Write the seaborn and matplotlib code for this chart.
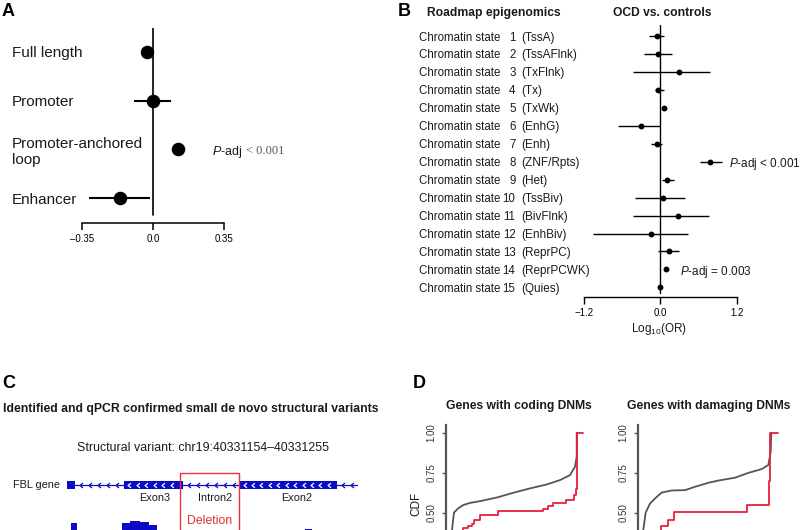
import numpy as np
import pandas as pd
import matplotlib
matplotlib.use('Agg')
import matplotlib.pyplot as plt
import matplotlib.transforms as mtransforms
from matplotlib.patches import Rectangle
from matplotlib.path import Path
import seaborn as sns

# ---------------- Panel A data ----------------
A_labels = ['Full length', 'Promoter', 'Promoter-anchored\nloop', 'Enhancer']
A_est = [-0.03, 0.0, 0.125, -0.16]
A_lo = [-0.05, -0.093, 0.095, -0.315]
A_hi = [-0.01, 0.09, 0.16, -0.016]
A_ticks = [-0.35, 0.0, 0.35]
A_ticklabels = ['\u20130.35', '0.0', '0.35']

# ---------------- Panel B data ----------------
B_num = list(range(1, 16))
B_state = ['TssA', 'TssAFlnk', 'TxFlnk', 'Tx', 'TxWk', 'EnhG', 'Enh', 'ZNF/Rpts',
           'Het', 'TssBiv', 'BivFlnk', 'EnhBiv', 'ReprPC', 'ReprPCWK', 'Quies']
B_est = [-0.06, -0.03, 0.29, -0.03, 0.05, -0.30, -0.06, 0.78,
         0.10, 0.04, 0.27, -0.15, 0.14, 0.09, 0.0]
B_lo = [-0.18, -0.25, -0.43, -0.08, 0.03, -0.67, -0.15, 0.63,
        0.03, -0.40, -0.43, -1.06, -0.04, 0.07, -0.01]
B_hi = [0.05, 0.19, 0.78, 0.05, 0.07, 0.0, 0.03, 0.97,
        0.21, 0.39, 0.77, 0.43, 0.30, 0.11, 0.01]
B_ticks = [-1.2, 0.0, 1.2]
B_ticklabels = ['\u22121.2', '0.0', '1.2']

# ---------------- Panel C data ----------------
C_transcript = (40330973, 40331458)
C_exons_start = [40330959, 40331058, 40331256]
C_exons_end = [40330973, 40331159, 40331424]
C_deletion = (40331154, 40331255)
C_labels = ['Exon3', 'Intron2', 'Exon2']
C_label_pos = [40331111, 40331214, 40331355]
C_cov_start = [40330966, 40331055, 40331068, 40331085, 40331100, 40331369]
C_cov_end = [40330977, 40331068, 40331085, 40331100, 40331114, 40331381]
C_cov_depth = [42, 42, 44, 43, 40, 36]

# ---------------- Panel D data ----------------
D1_gray_x = [5.0, 6.5, 8, 12, 17, 24, 34, 51, 67, 84, 101, 114, 124, 129, 130.7, 130.7]
D1_gray_y = [0.30, 0.42, 0.50, 0.525, 0.546, 0.560, 0.571, 0.594, 0.623, 0.651, 0.676,
             0.703, 0.734, 0.787, 0.85, 1.0]
D1_red_x = [17.3, 17.3, 21.7, 25.7, 28.3, 34, 52.3, 97.3, 102.3, 106.7, 120, 128.3, 129.7, 130.7, 136.7]
D1_red_y = [0.30, 0.40, 0.414, 0.431, 0.456, 0.487, 0.508, 0.525, 0.542, 0.561, 0.577,
            0.61, 0.65, 1.0, 1.0]
D2_gray_x = [4.0, 5.0, 7.4, 11.7, 16.7, 23.4, 33.4, 46.7, 56.7, 70, 80, 96.7, 110, 123.4, 130, 132.4, 133.0]
D2_gray_y = [0.30, 0.39, 0.50, 0.556, 0.588, 0.625, 0.638, 0.640, 0.661, 0.686, 0.70,
             0.718, 0.748, 0.772, 0.797, 0.88, 1.0]
D2_red_x = [22.7, 22.7, 29.4, 36, 108.4, 130.2, 131.0, 131.7, 139.4]
D2_red_y = [0.30, 0.414, 0.456, 0.504, 0.546, 0.62, 0.70, 1.0, 1.0]
D_titles = ['Genes with coding DNMs', 'Genes with damaging DNMs']
D_yticks = [0.50, 0.75, 1.00]

# ---------------- style ----------------
sns.set_theme(style='white')
plt.rcParams['font.family'] = ['Liberation Sans', 'DejaVu Sans']
plt.rcParams['mathtext.fontset'] = 'custom'
plt.rcParams['mathtext.rm'] = 'Liberation Sans'
plt.rcParams['mathtext.it'] = 'Liberation Sans:italic'
plt.rcParams['mathtext.bf'] = 'Liberation Sans:bold'

W, H = 800, 530
fig = plt.figure(figsize=(8, 5.3), dpi=100)


def box(l, t, r, b):
    return [l / W, 1 - b / H, (r - l) / W, (b - t) / H]


def ftxt(x, y, s, **kw):
    fig.text(x / W, 1 - y / H, s, **kw)


TXT = '#1a1a1a'

# panel letters
for letter, (x, y) in zip('ABCD', [(2, 11), (398, 11), (2, 383), (413, 383)]):
    ftxt(x, y, letter, fontsize=13, fontweight='bold', va='center', ha='left', color='black')

# ================= Panel A =================
axA = fig.add_axes(box(81.7, 28, 224, 222.7))
rowsA = np.arange(len(A_labels))
axA.hlines(rowsA, A_lo, A_hi, color='black', lw=1.5, zorder=2)
sns.scatterplot(x=A_est, y=rowsA, ax=axA, s=95, color='black', linewidth=0, zorder=3, legend=False)
axA.axvline(0, ymin=0.04, ymax=1, color='black', lw=1.2, zorder=1)
axA.set_xlim(-0.35, 0.35)
axA.set_ylim(3.507, -0.493)
for s in ['top', 'right', 'left']:
    axA.spines[s].set_visible(False)
axA.spines['bottom'].set_bounds(-0.35, 0.35)
axA.spines['bottom'].set_color('black')
axA.spines['bottom'].set_linewidth(1.1)
axA.set_xticks(A_ticks)
axA.set_xticklabels(A_ticklabels, fontsize=7, color=TXT)
axA.set_yticks([])
axA.tick_params(axis='x', direction='out', length=5, width=1.1, pad=3, bottom=True, colors='black')
axA.set_xlabel('')
axA.set_ylabel('')
trA = mtransforms.blended_transform_factory(fig.transFigure, axA.transData)
for i, lab in enumerate(A_labels):
    axA.text(12 / W, i, lab, transform=trA, fontsize=11, ha='left', va='center_baseline',
             color=TXT, linespacing=1.2)
axA.text(0.29, 2, r'$\it{P}$-adj', fontsize=9, ha='left', va='center_baseline', color=TXT)
axA.text(0.458, 2, '< 0.001', fontsize=9, ha='left', va='center_baseline', color='#555555',
         family=['Liberation Serif', 'DejaVu Serif'])

# ================= Panel B =================
axB = fig.add_axes(box(584, 25, 736.7, 296.7))
rowsB = np.arange(len(B_state))
axB.hlines(rowsB, B_lo, B_hi, color='black', lw=1.0, zorder=2)
sns.scatterplot(x=B_est, y=rowsB, ax=axB, s=18, color='black', linewidth=0, zorder=3, legend=False)
axB.axvline(0, ymin=0.0125, ymax=1, color='black', lw=1.0, zorder=1)
axB.set_xlim(-1.2, 1.2)
axB.set_ylim(14.52, -0.613)
for s in ['top', 'right', 'left']:
    axB.spines[s].set_visible(False)
axB.spines['bottom'].set_bounds(-1.2, 1.2)
axB.spines['bottom'].set_color('black')
axB.spines['bottom'].set_linewidth(1.0)
axB.set_xticks(B_ticks)
axB.set_xticklabels(B_ticklabels, fontsize=7, color=TXT)
axB.set_yticks([])
axB.tick_params(axis='x', direction='out', length=5, width=1.0, pad=3, bottom=True, colors='black')
axB.set_xlabel('')
axB.set_ylabel('')
trB = mtransforms.blended_transform_factory(fig.transFigure, axB.transData)
for i, (n, st) in enumerate(zip(B_num, B_state)):
    axB.text(419.3 / W, i, 'Chromatin state', transform=trB, fontsize=8.3, ha='left',
             va='center_baseline', color=TXT)
    axB.text(515.5 / W, i, str(n), transform=trB, fontsize=8.3, ha='right',
             va='center_baseline', color=TXT)
    axB.text(521.7 / W, i, f'({st})', transform=trB, fontsize=8.5, ha='left',
             va='center_baseline', color=TXT)
axB.text(1.074, 7, r'$\it{P}$-adj < 0.001', fontsize=8.5, ha='left', va='center_baseline', color=TXT)
axB.text(0.315, 13, r'$\it{P}$-adj = 0.003', fontsize=8.5, ha='left', va='center_baseline', color=TXT)
ftxt(427.3, 12.7, 'Roadmap epigenomics', fontsize=8.7, fontweight='bold', ha='left', va='center', color=TXT)
ftxt(662, 12.7, 'OCD vs. controls', fontsize=8.7, fontweight='bold', ha='center', va='center', color=TXT)
ftxt(659, 329, r'Log$_{10}$(OR)', fontsize=8.5, ha='center', va='center', color=TXT)

# ================= Panel C =================
ftxt(3, 409.3, 'Identified and qPCR confirmed small de novo structural variants',
     fontsize=8.8, fontweight='bold', ha='left', va='center', color=TXT)
ftxt(203.3, 448.3, f'Structural variant: chr19:{C_deletion[0]}\u2013{C_deletion[1]}',
     fontsize=8.9, ha='center', va='center', color=TXT)
ftxt(60, 485, 'FBL gene', fontsize=7.8, ha='right', va='center', color=TXT)

bp_per_px = (C_deletion[1] - C_deletion[0]) / 58.7
axC = fig.add_axes(box(60, 465, 360, 565))
axC.set_xlim(C_deletion[0] - 120 * bp_per_px, C_deletion[0] + 180 * bp_per_px)
axC.set_ylim(0, 100)
axC.axis('off')
BLUE = '#0a0ac8'
GENE_Y = 80
chevron = Path([(0.6, 1.0), (-0.6, 0.0), (0.6, -1.0)], [Path.MOVETO, Path.LINETO, Path.LINETO])
# transcript line
axC.plot(list(C_transcript), [GENE_Y, GENE_Y], color=BLUE, lw=0.9, zorder=2)
# chevrons along introns
intron_segments = [(C_exons_end[0], C_exons_start[1]), (C_exons_end[1], C_exons_start[2]),
                   (C_exons_end[2], C_transcript[1])]
for a, b in intron_segments:
    xs = np.arange(a + 10, b - 4, 15.5)
    axC.plot(xs, np.full_like(xs, GENE_Y, dtype=float), linestyle='none', marker=chevron,
             markersize=3.6, markeredgewidth=0.9, markerfacecolor='none', color=BLUE, zorder=3)
# exons
for s0, e0 in zip(C_exons_start, C_exons_end):
    axC.add_patch(Rectangle((s0, GENE_Y - 4.2), e0 - s0, 8.4, facecolor=BLUE, edgecolor='none', zorder=3))
    if e0 - s0 > 40:
        xs = np.arange(s0 + 9, e0 - 5, 14.5)
        axC.plot(xs, np.full_like(xs, GENE_Y, dtype=float), linestyle='none', marker=chevron,
                 markersize=3.4, markeredgewidth=0.9, markerfacecolor='none', color='white', zorder=4)
# coverage
axC.bar(C_cov_start, C_cov_depth, width=np.array(C_cov_end) - np.array(C_cov_start),
        align='edge', color=BLUE, edgecolor='none', zorder=2)
# deletion box
axC.add_patch(Rectangle((C_deletion[0], -20), C_deletion[1] - C_deletion[0], 111.7,
                        facecolor='none', edgecolor='#e8323c', lw=1.0, zorder=5, clip_on=False))
for lab, pos in zip(C_labels, C_label_pos):
    axC.text(pos, 66.7, lab, fontsize=7.8, ha='center', va='center', color=TXT)
axC.text((C_deletion[0] + C_deletion[1]) / 2, 44.3, 'Deletion', fontsize=8.8, ha='center',
         va='center', color='#e03030')

# ================= Panel D =================
GRAY = '#555555'
RED = '#e8203a'
D_sets = [(446, D1_gray_x, D1_gray_y, D1_red_x, D1_red_y),
          (638.3, D2_gray_x, D2_gray_y, D2_red_x, D2_red_y)]
for k, (x0, gx, gy, rx, ry) in enumerate(D_sets):
    ax = fig.add_axes(box(x0, 425, x0 + 150, 600))
    sns.lineplot(x=gx, y=gy, ax=ax, color=GRAY, lw=1.3, estimator=None, sort=False)
    sns.lineplot(x=rx, y=ry, ax=ax, color=RED, lw=1.3, estimator=None, sort=False,
                 drawstyle='steps-post')
    ax.set_xlim(0, 150)
    ax.set_ylim(-0.048, 1.048)
    for s in ['top', 'right', 'bottom']:
        ax.spines[s].set_visible(False)
    ax.spines['left'].set_color(GRAY)
    ax.spines['left'].set_linewidth(1.6)
    ax.set_xticks([])
    ax.set_yticks(D_yticks)
    ax.set_yticklabels([f'{v:.2f}' for v in D_yticks], rotation=90, va='center', fontsize=7, color='#333333')
    ax.tick_params(axis='y', direction='out', length=3, width=1.0, color=GRAY, pad=4, left=True)
    ax.set_xlabel('')
    ax.set_ylabel('')
    ax.patch.set_alpha(0)
    ftxt(x0 + 72.8 if k == 0 else x0 + 70.7, 406, D_titles[k], fontsize=8.7, fontweight='bold',
         ha='center', va='center', color=TXT)

ftxt(416.7, 504, 'CDF', fontsize=8.5, rotation=90, ha='center', va='center', color=TXT)

fig.savefig('out.png', dpi=100)
